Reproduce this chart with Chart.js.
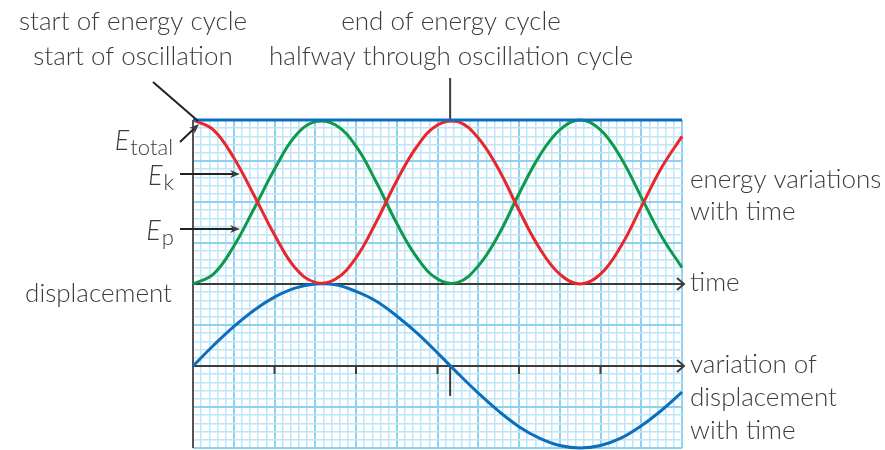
<!DOCTYPE html>
<html>
<head>
<meta charset="utf-8">
<script src="https://cdn.jsdelivr.net/npm/chart.js@4"></script>
<style>
    html, body { margin: 0; padding: 0; background: #ffffff; }
    #wrap { width: 885px; height: 450px; }
</style>
</head>
<body>
<div id="wrap"><canvas id="energy-chart" width="885" height="450"></canvas></div>
<script>
// time samples (grid units along the time axis)
const times = [0, 0.5, 1, 1.5, 2, 2.5, 3, 3.5, 4, 4.5, 5, 5.5, 6, 6.5, 7, 7.5, 8, 8.5, 9, 9.5, 10, 10.5, 11, 11.5, 12];
// energies as fraction of E total
const kineticEnergy = [1.00, 0.94, 0.77, 0.54, 0.30, 0.10, 0.01, 0.03, 0.16, 0.38, 0.63, 0.84, 0.97, 0.99, 0.89, 0.70, 0.45, 0.22, 0.06, 0.00, 0.06, 0.23, 0.47, 0.71, 0.90];
const potentialEnergy = [0.00, 0.06, 0.23, 0.46, 0.70, 0.90, 0.99, 0.97, 0.84, 0.62, 0.37, 0.16, 0.03, 0.01, 0.11, 0.30, 0.55, 0.78, 0.94, 1.00, 0.94, 0.77, 0.53, 0.29, 0.10];
const totalEnergy = [1.00, 1.00];
const totalTimes = [0, 12];
// displacement as fraction of amplitude
const displacement = [0.00, 0.25, 0.48, 0.68, 0.84, 0.95, 1.00, 0.99, 0.91, 0.79, 0.61, 0.40, 0.16, -0.09, -0.33, -0.55, -0.74, -0.88, -0.97, -1.00, -0.97, -0.88, -0.73, -0.54, -0.32];
// tick marks on the displacement axis
const dispTicks = [2, 4, 6, 8, 10];
const halfCycleTime = 6.31;

const RED = '#e8262b';
const GREEN = '#0d9b4b';
const BLUE = '#0b6fbd';
const INK = '#3c3c3c';
const GRID_MINOR = '#bfe6f8';
const GRID_MAJOR = '#8fd2f0';
const FONT = '300 26px Lato';

function pts(xs, ys) {
    return xs.map((x, i) => ({ x: x, y: ys[i] }));
}

function isMajor(v) {
    return Math.abs(v - Math.round(v)) < 1e-6;
}

function gridOpts() {
    return {
        color: ctx => isMajor(ctx.tick.value) ? GRID_MAJOR : GRID_MINOR,
        lineWidth: ctx => isMajor(ctx.tick.value) ? 2 : 1.5,
        drawTicks: false
    };
}

function line(ctx, x1, y1, x2, y2) {
    ctx.beginPath();
    ctx.moveTo(x1, y1);
    ctx.lineTo(x2, y2);
    ctx.stroke();
}

function arrow(ctx, x1, y1, x2, y2) {
    const a = Math.atan2(y2 - y1, x2 - x1);
    const len = 10, w = 4;
    line(ctx, x1, y1, x2 - Math.cos(a) * len * 0.7, y2 - Math.sin(a) * len * 0.7);
    ctx.beginPath();
    ctx.moveTo(x2, y2);
    ctx.lineTo(x2 - Math.cos(a) * len - Math.sin(a) * w, y2 - Math.sin(a) * len + Math.cos(a) * w);
    ctx.lineTo(x2 - Math.cos(a) * len * 0.7, y2 - Math.sin(a) * len * 0.7);
    ctx.lineTo(x2 - Math.cos(a) * len + Math.sin(a) * w, y2 - Math.sin(a) * len - Math.cos(a) * w);
    ctx.closePath();
    ctx.fill();
}

function chevron(ctx, x, y) {
    ctx.beginPath();
    ctx.moveTo(x - 7, y - 6);
    ctx.lineTo(x, y);
    ctx.lineTo(x - 7, y + 6);
    ctx.stroke();
}

function energyLabel(ctx, sub, xRight, baseline) {
    ctx.textAlign = 'left';
    ctx.font = 'italic 300 27px Lato';
    const wE = ctx.measureText('E').width;
    ctx.font = '300 22px Lato';
    const wS = ctx.measureText(sub).width;
    const x0 = xRight - wE - wS;
    ctx.font = 'italic 300 27px Lato';
    ctx.fillText('E', x0, baseline);
    ctx.font = '300 22px Lato';
    ctx.fillText(sub, x0 + wE + 1, baseline + 5);
}

const axesPlugin = {
    id: 'axesPlugin',
    beforeDatasetsDraw(chart) {
        const ctx = chart.ctx;
        const area = chart.chartArea;
        const x = chart.scales.x;
        const yE = chart.scales.yE;
        const yD = chart.scales.yD;
        ctx.save();
        ctx.lineWidth = 2;
        // left axis
        ctx.strokeStyle = '#555555';
        line(ctx, area.left, area.top, area.left, area.bottom);
        ctx.strokeStyle = INK;
        // time axis for energies
        const yt = yE.getPixelForValue(0);
        line(ctx, area.left, yt, area.right + 2, yt);
        chevron(ctx, area.right + 2, yt);
        // displacement axis
        const yd = yD.getPixelForValue(0);
        line(ctx, area.left, yd, area.right + 2, yd);
        chevron(ctx, area.right + 2, yd);
        dispTicks.forEach(t => {
            const px = x.getPixelForValue(t);
            line(ctx, px, yd, px, yd + 8);
        });
        const hx = x.getPixelForValue(halfCycleTime);
        line(ctx, hx, yd, hx, yd + 30);
        line(ctx, hx, 78, hx, yE.getPixelForValue(1));
        ctx.restore();
    },
    afterDatasetsDraw(chart) {
        const ctx = chart.ctx;
        ctx.save();
        ctx.fillStyle = INK;
        ctx.strokeStyle = '#222222';
        ctx.lineWidth = 2;
        ctx.textBaseline = 'alphabetic';

        // top captions
        ctx.font = FONT;
        ctx.textAlign = 'center';
        ctx.fillText('start of energy cycle', 133, 30);
        ctx.fillText('start of oscillation', 133, 65);
        ctx.fillText('end of energy cycle', 451, 30);
        ctx.fillText('halfway through oscillation cycle', 451, 65);

        // pointer from the start caption
        line(ctx, 153, 82, 198, 121);

        // energy labels with arrows
        energyLabel(ctx, 'total', 172, 150);
        energyLabel(ctx, 'k', 173, 185);
        energyLabel(ctx, 'p', 173, 240);
        arrow(ctx, 180, 142, 199, 124);
        arrow(ctx, 180, 174, 240, 174);
        arrow(ctx, 180, 229, 240, 229);

        // right side captions
        ctx.font = FONT;
        ctx.textAlign = 'left';
        ctx.fillText('energy variations', 690, 188);
        ctx.fillText('with time', 690, 220);
        ctx.fillText('time', 690, 291);
        ctx.fillText('variation of', 690, 373);
        ctx.fillText('displacement', 690, 406);
        ctx.fillText('with time', 690, 439);

        ctx.textAlign = 'right';
        ctx.fillText('displacement', 172, 302);
        ctx.restore();
    }
};

document.addEventListener('DOMContentLoaded', function() {
    const ctx = document.getElementById('energy-chart').getContext('2d');
    window.energyChart = new Chart(ctx, {
        type: 'line',
        data: {
            datasets: [{
                label: 'E total',
                data: pts(totalTimes, totalEnergy),
                yAxisID: 'yE',
                borderColor: BLUE,
                borderWidth: 3,
                tension: 0
            }, {
                label: 'Ek',
                data: pts(times, kineticEnergy),
                yAxisID: 'yE',
                borderColor: RED,
                borderWidth: 3,
                tension: 0.4
            }, {
                label: 'Ep',
                data: pts(times, potentialEnergy),
                yAxisID: 'yE',
                borderColor: GREEN,
                borderWidth: 3,
                tension: 0.4
            }, {
                label: 'displacement',
                data: pts(times, displacement),
                yAxisID: 'yD',
                borderColor: BLUE,
                borderWidth: 3,
                tension: 0.4
            }]
        },
        options: {
            responsive: false,
            animation: false,
            devicePixelRatio: 1,
            layout: {
                padding: { left: 193, right: 203, top: 120, bottom: 2 }
            },
            elements: {
                point: { radius: 0 }
            },
            datasets: {
                line: { fill: false, clip: 6 }
            },
            plugins: {
                legend: { display: false },
                tooltip: { enabled: false }
            },
            scales: {
                x: {
                    type: 'linear',
                    min: 0,
                    max: 12,
                    ticks: { display: false, stepSize: 0.2, maxTicksLimit: 1000 },
                    grid: gridOpts(),
                    border: { display: false }
                },
                y: {
                    min: 0,
                    max: 8,
                    ticks: { display: false, stepSize: 0.2, maxTicksLimit: 1000 },
                    grid: gridOpts(),
                    border: { display: false }
                },
                yE: { display: false, min: -1, max: 1 },
                yD: { display: false, min: -1, max: 3 }
            }
        },
        plugins: [axesPlugin]
    });
});
</script>
</body>
</html>
